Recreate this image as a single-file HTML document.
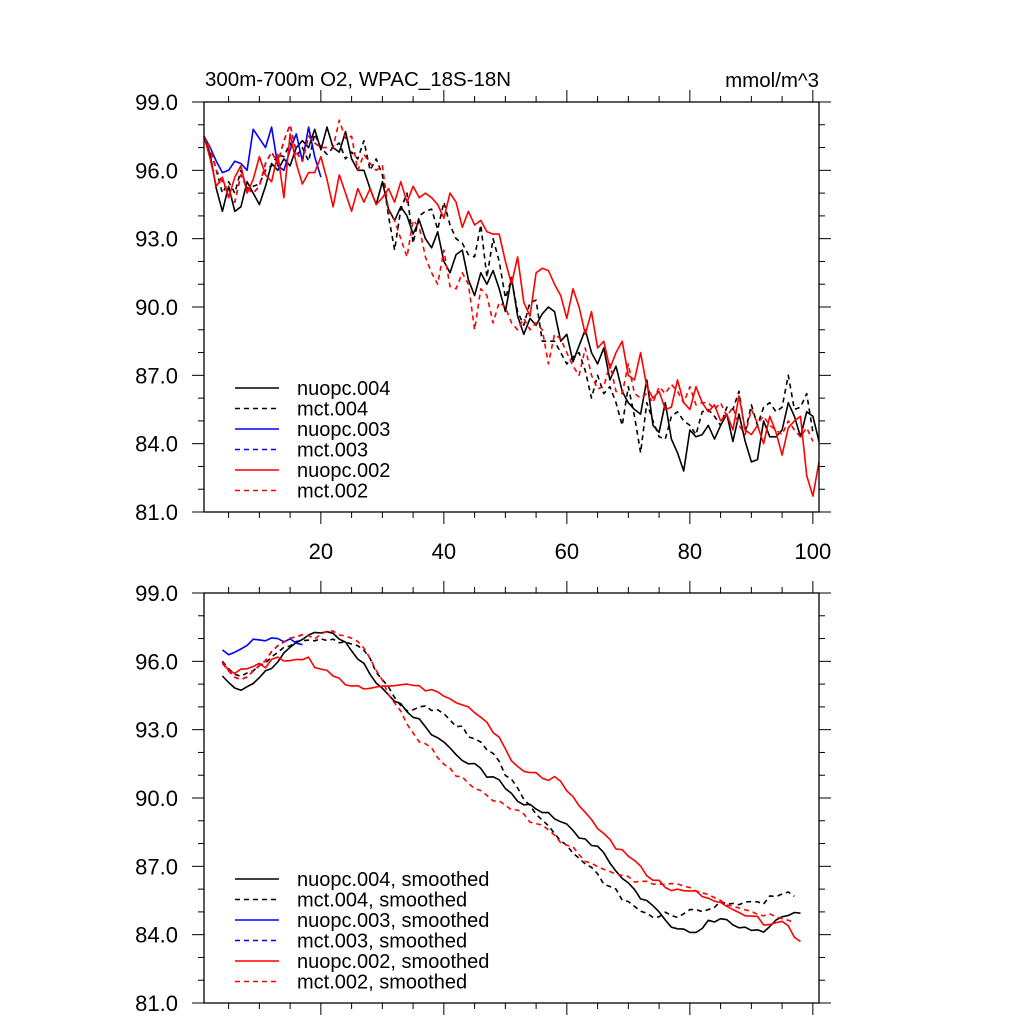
<!DOCTYPE html>
<html><head><meta charset="utf-8"><style>
html,body{margin:0;padding:0;background:#fff;width:1024px;height:1024px;overflow:hidden}
svg{display:block;font-family:"Liberation Sans",Arial,sans-serif}
</style></head><body>
<svg id="chart" width="1024" height="1024" viewBox="0 0 1024 1024"></svg>
<script>
// ---- data (years 1..101) ----
const years = Array.from({length:101},(_,i)=>i+1);
const nuopc004 = [97.5,96.7,95.2,94.2,95.3,94.2,94.4,95.5,95.0,94.5,95.3,96.3,96.0,96.5,96.2,97.0,97.3,97.0,97.8,96.9,97.9,97.0,96.8,97.7,96.5,96.0,96.0,95.2,94.5,95.5,94.3,93.8,94.4,94.0,93.2,93.8,93.0,92.6,93.3,92.0,91.5,92.3,92.5,91.2,90.5,91.5,91.0,91.6,90.8,89.8,91.3,89.6,88.8,89.5,89.2,89.7,90.0,89.8,88.5,88.8,87.6,88.3,89.0,88.0,87.5,88.2,86.8,87.4,86.3,85.8,85.5,85.3,86.8,84.8,84.5,85.8,84.2,83.6,82.8,84.6,84.3,84.4,84.8,84.2,84.8,85.3,84.1,85.3,84.1,83.2,83.3,85.0,84.3,84.3,84.6,85.8,85.2,84.3,85.4,85.2,84.1];
const mct004 = [97.5,97.0,96.0,95.0,95.5,95.0,96.0,95.2,95.3,95.4,96.0,96.2,96.7,96.6,97.2,96.6,97.0,96.4,97.6,97.0,96.7,97.0,97.2,96.5,96.8,96.5,97.3,96.0,96.5,95.8,94.0,92.5,94.3,95.0,92.8,94.0,94.2,94.3,93.4,94.6,93.6,93.0,92.8,92.3,92.2,93.6,91.3,93.0,92.0,90.4,91.2,89.8,89.2,90.2,90.3,88.5,88.5,88.5,88.0,87.5,87.8,88.0,87.2,86.0,87.0,86.2,86.5,85.8,84.8,86.5,85.2,83.6,85.8,85.0,84.3,84.2,85.2,85.4,85.0,84.8,84.4,85.4,85.5,85.2,84.8,85.6,85.5,86.3,84.5,85.7,84.8,85.6,85.8,85.4,85.6,87.0,85.5,85.6,86.2,84.5];
const nuopc003 = [97.5,97.0,96.4,95.9,96.0,96.4,96.3,96.0,97.8,97.4,97.0,97.9,96.2,96.0,96.9,97.6,96.4,97.9,96.6,95.7];
const mct003 = [97.5,97.0,96.0,95.5,95.0,94.6,95.8,95.2,95.0,95.3,96.3,96.8,96.3,97.3,98.0,96.8,96.4,97.5,97.2,97.0];
const nuopc002 = [97.5,96.5,95.3,95.7,94.8,95.7,96.2,95.0,95.6,96.6,95.8,95.5,96.7,94.8,97.6,96.3,95.4,95.9,95.9,96.6,95.6,94.4,95.8,95.0,94.2,95.2,94.6,95.2,94.5,94.8,95.2,94.6,95.5,94.6,95.3,94.8,95.0,94.8,94.5,93.9,95.0,94.6,93.5,94.2,93.6,93.8,93.3,93.2,93.2,92.0,91.0,92.2,90.2,89.6,91.5,91.7,91.6,91.0,90.5,89.5,90.8,90.0,88.8,89.8,88.2,88.5,87.3,88.0,88.5,87.0,86.8,88.0,86.5,86.0,86.3,85.5,85.6,86.8,85.8,85.5,86.5,85.8,85.4,85.7,85.0,85.3,84.6,86.1,84.6,84.4,84.8,84.0,85.2,84.5,83.5,84.7,85.0,85.2,82.6,81.7,83.2];
const mct002 = [97.5,97.0,96.0,95.5,95.0,94.6,95.8,95.2,95.0,95.3,96.3,96.8,96.3,97.3,98.0,96.8,96.4,97.5,97.2,97.0,97.0,97.0,98.2,97.4,97.5,96.0,96.7,96.3,96.0,96.2,94.2,93.8,93.0,92.2,93.8,93.5,92.2,91.5,91.0,92.5,90.9,90.8,91.5,91.0,89.0,90.8,90.5,89.3,90.2,90.0,89.3,89.0,89.5,89.0,89.3,89.0,87.5,88.8,88.6,88.0,87.4,87.0,88.2,87.0,86.4,86.5,87.5,86.3,86.2,87.5,86.2,86.0,86.2,85.8,86.5,86.2,86.6,86.3,85.8,86.5,85.7,85.8,85.8,85.5,85.8,85.2,85.6,84.8,84.4,85.5,84.9,85.2,84.8,84.6,84.4,85.0,84.6,84.3,84.7,84.1];
const yTicks = [81,84,87,90,93,96,99];
const yTickLabels = ["81.0","84.0","87.0","90.0","93.0","96.0","99.0"];
const xTicks = [20,40,60,80,100];
const smoothWindow = 7;

const svg = document.getElementById('chart');
const NS = 'http://www.w3.org/2000/svg';
function mk(tag, attrs, parent){const e=document.createElementNS(NS,tag);for(const k in attrs)e.setAttribute(k,attrs[k]);(parent||svg).appendChild(e);return e;}

const X0=204, X1=819, XMIN=1, XMAX=101;
const xs = v => X0 + (v-XMIN)/(XMAX-XMIN)*(X1-X0);

function smooth(arr){
  const h=(smoothWindow-1)/2, out=[];
  for(let i=h;i<arr.length-h;i++){let s=0;for(let j=i-h;j<=i+h;j++)s+=arr[j];out.push([i+1,s/smoothWindow]);}
  return out;
}
function raw(arr){return arr.map((v,i)=>[years[i],v]);}

function panel(name, top, bottom, showXLabels, series, legendY, legendSuffix){
  const g = mk('g',{});
  
  
  const ys = v => bottom - (v-81)/(99-81)*(bottom-top);
  const sg = mk('g',{},g);
  series.forEach(s=>{
    const d = s.pts.map((p,i)=>(i?'L':'M')+xs(p[0]).toFixed(1)+' '+ys(p[1]).toFixed(1)).join(' ');
    const path = mk('path',{d:d,fill:'none',stroke:s.color,'stroke-width':1.6,'stroke-dasharray':s.dash?'5 4':'none','stroke-linejoin':'round'},sg);
    
    
  });
  const fr = mk('rect',{x:X0,y:top,width:X1-X0,height:bottom-top,fill:'none',stroke:'#000','stroke-width':1.3},g);
  
  
  for(let v=81; v<=99; v++){
    const major = (v-81)%3===0, L = major?12:6, y=ys(v);
    mk('line',{x1:X0-L,y1:y,x2:X0,y2:y,stroke:'#000','stroke-width':1},g);
    mk('line',{x1:X1,y1:y,x2:X1+L,y2:y,stroke:'#000','stroke-width':1},g);
  }
  yTicks.forEach((v,i)=>{
    const t = mk('text',{x:178,y:ys(v)+8,'text-anchor':'end','font-size':22},g);
    t.textContent = yTickLabels[i];
    
    
  });
  for(let v=5; v<=100; v+=5){
    const major = v%20===0, L = major?12:6, x=xs(v);
    mk('line',{x1:x,y1:top-L,x2:x,y2:top,stroke:'#000','stroke-width':1},g);
    mk('line',{x1:x,y1:bottom,x2:x,y2:bottom+L,stroke:'#000','stroke-width':1},g);
  }
  if(showXLabels){
    xTicks.forEach(v=>{
      const t = mk('text',{x:xs(v),y:bottom+47,'text-anchor':'middle','font-size':22},g);
      t.textContent = String(v);
      
      
    });
  }
  const lg = mk('g',{},g);
  
  
  series.forEach((s,i)=>{
    const y = legendY + i*20.5;
    mk('line',{x1:235,y1:y,x2:279,y2:y,stroke:s.color,'stroke-width':1.6,'stroke-dasharray':s.dash?'5 4':'none'},lg);
    const t = mk('text',{x:297,y:y+7,'font-size':20},lg);
    t.textContent = s.name + legendSuffix;
    
    
  });
}

const defs = [
  {name:'nuopc.004', arr:nuopc004, color:'#000', dash:false},
  {name:'mct.004', arr:mct004, color:'#000', dash:true},
  {name:'nuopc.003', arr:nuopc003, color:'#0000ff', dash:false},
  {name:'mct.003', arr:mct003, color:'#0000ff', dash:true},
  {name:'nuopc.002', arr:nuopc002, color:'#ff0000', dash:false},
  {name:'mct.002', arr:mct002, color:'#ff0000', dash:true}
];
function build(fn){return defs.map(d=>({name:d.name,color:d.color,dash:d.dash,pts:fn(d.arr)}));}
const topSeries = build(raw), botSeries = build(smooth);

panel('top-panel-annual',102,512,true,topSeries,388,'');
panel('bottom-panel-smoothed',593,1003,false,botSeries,879,', smoothed');

const title = mk('text',{x:205,y:86,'font-size':20.5});
title.textContent='300m-700m O2, WPAC_18S-18N';


const units = mk('text',{x:819,y:87,'font-size':20.5,'text-anchor':'end'});
units.textContent='mmol/m^3';


</script>
</body></html>
